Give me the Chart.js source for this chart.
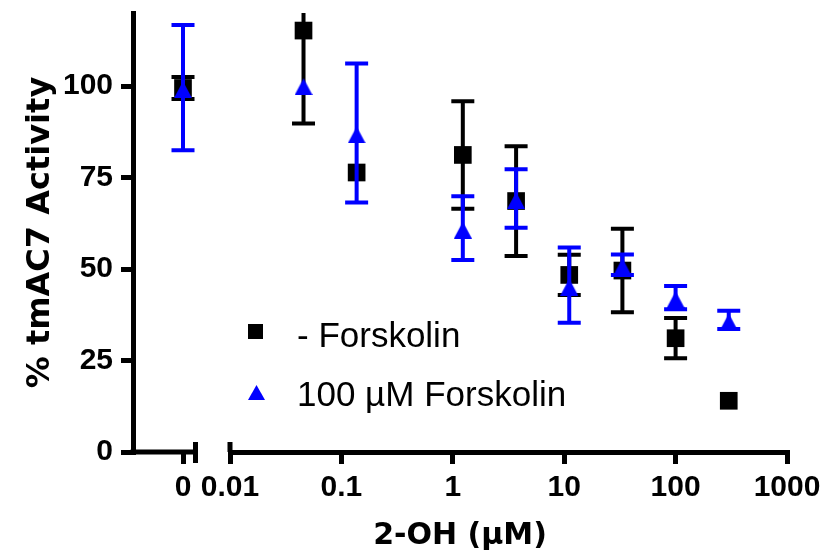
<!DOCTYPE html>
<html>
<head>
<meta charset="utf-8">
<script src="https://cdn.jsdelivr.net/npm/chart.js@4.4.0/dist/chart.umd.min.js"></script>
<style>
  html, body { margin: 0; padding: 0; background: #fff; }
</style>
</head>
<body>
<canvas id="chart" width="825" height="558"></canvas>
<script>
// 2-OH concentrations (uM), 3-fold dilutions. The "0" control gets its own axis piece.
const concs = [0.0457, 0.137, 1.23, 3.7, 11.1, 33.3, 100, 300];

const noFskZero = 99.5;
const noFskZeroErr = 3;
const noFsk = [115.2, 76.4, 81.2, 68.6, 48.4, 49.6, 31.1, 14.0];
const noFskErr = [25.4, 0, 14.7, 15, 5.5, 11.4, 5.5, 0];

const fskZero = 99.6;
const fskZeroErr = 17.1;
const fsk = [100.4, 87.2, 61.2, 69.3, 45.6, 51.2, 42.2, 36.1];
const fskErr = [0, 19, 8.7, 8, 10.3, 2.8, 3.2, 2.5];

const seriesNames = ['- Forskolin', '100 µM Forskolin'];
const yTicks = [0, 25, 50, 75, 100];
const xTicks = [0.01, 0.1, 1, 10, 100, 1000];
const zeroTicks = [0];

const BLUE = '#0000ff';
const BLACK = '#000000';
const tickFont = { family: '"Liberation Sans", Arial, sans-serif', weight: 'bold', size: 30 };
const titleFont = { family: '"DejaVu Sans", sans-serif', weight: 'bold', size: 30 };

// triangle marker, drawn a bit low like the original plot software does
function triangleImg(w, h, pad, color) {
    const c = document.createElement('canvas');
    c.width = w;
    c.height = h + pad;
    const g = c.getContext('2d');
    g.fillStyle = color;
    g.beginPath();
    g.moveTo(w / 2, pad);
    g.lineTo(w, h + pad);
    g.lineTo(0, h + pad);
    g.closePath();
    g.fill();
    return c;
}
const triMarker = triangleImg(18, 17, 4, BLUE);

const toPoints = (xs, ys) => xs.map((x, i) => ({ x: x, y: ys[i] }));

const errorBars = {
    id: 'errorBars',
    beforeDatasetDraw(chart, args) {
        const ds = chart.data.datasets[args.index];
        if (!ds.errors) return;
        const ctx = chart.ctx;
        const area = chart.chartArea;
        const yScale = chart.scales.y;
        ctx.save();
        ctx.beginPath();
        ctx.rect(area.left, area.top, area.right - area.left, area.bottom - area.top);
        ctx.clip();
        ctx.strokeStyle = ds.barColor;
        ctx.lineWidth = 4;
        args.meta.data.forEach((pt, i) => {
            const e = ds.errors[i];
            if (!e) return;
            const v = ds.data[i].y;
            const top = yScale.getPixelForValue(v + e);
            const bot = yScale.getPixelForValue(v - e);
            ctx.beginPath();
            ctx.moveTo(pt.x, top); ctx.lineTo(pt.x, bot);
            ctx.moveTo(pt.x - 11.5, top); ctx.lineTo(pt.x + 11.5, top);
            ctx.moveTo(pt.x - 11.5, bot); ctx.lineTo(pt.x + 11.5, bot);
            ctx.stroke();
        });
        ctx.restore();
    }
};

// broken x axis: short piece for "0", gap, then the log axis
const brokenAxis = {
    id: 'brokenAxis',
    afterDraw(chart) {
        const ctx = chart.ctx;
        const area = chart.chartArea;
        const xLog = chart.scales.x;
        const yb = chart.scales.y.getPixelForValue(0);
        const brk = xLog.left - 32;
        const start = xLog.getPixelForValue(xTicks[0]);
        ctx.save();
        ctx.strokeStyle = BLACK;
        ctx.lineWidth = 5;
        ctx.beginPath();
        ctx.moveTo(area.left - 2.5, yb); ctx.lineTo(brk, yb);
        ctx.moveTo(brk - 2.5, yb - 10); ctx.lineTo(brk - 2.5, yb + 11);
        ctx.moveTo(start, yb - 10); ctx.lineTo(start, yb);
        ctx.stroke();
        ctx.restore();
    }
};

const legendBox = {
    id: 'legendBox',
    afterDraw(chart) {
        const ctx = chart.ctx;
        ctx.save();
        ctx.fillStyle = BLACK;
        ctx.fillRect(248, 324, 15, 15);
        ctx.fillStyle = BLUE;
        ctx.beginPath();
        ctx.moveTo(256.5, 385); ctx.lineTo(265, 400); ctx.lineTo(248, 400);
        ctx.closePath();
        ctx.fill();
        ctx.fillStyle = BLACK;
        ctx.font = '35px "Liberation Sans", Arial, sans-serif';
        ctx.textBaseline = 'middle';
        ctx.fillText(seriesNames[0], 297, 337);
        ctx.fillText(seriesNames[1], 297, 396);
        ctx.restore();
    }
};

const axisGrid = {
    drawOnChartArea: false, drawTicks: true, tickLength: 12,
    lineWidth: 5, tickWidth: 5, tickColor: BLACK, color: BLACK
};

// fixed axis sizes, and no label overhang padding
const fitHeight = h => s => { s.height = h; s.paddingLeft = 0; s.paddingRight = 0; };

const squareSet = (data, errs, xAxis) => ({
    label: seriesNames[0], data: data, errors: errs, barColor: BLACK,
    xAxisID: xAxis, yAxisID: 'y', order: 2,
    pointStyle: 'rect', pointRadius: 12.5, pointBorderWidth: 0,
    pointBackgroundColor: BLACK, showLine: false
});
const triangleSet = (data, errs, xAxis) => ({
    label: seriesNames[1], data: data, errors: errs, barColor: BLUE,
    xAxisID: xAxis, yAxisID: 'y', order: 1,
    pointStyle: triMarker, pointRadius: 10, pointBorderWidth: 0,
    pointBackgroundColor: BLUE, showLine: false
});

new Chart(document.getElementById('chart').getContext('2d'), {
    type: 'scatter',
    data: {
        datasets: [
            squareSet([{ x: 0, y: noFskZero }], [noFskZeroErr], 'x0'),
            squareSet(toPoints(concs, noFsk), noFskErr, 'x'),
            triangleSet([{ x: 0, y: fskZero }], [fskZeroErr], 'x0'),
            triangleSet(toPoints(concs, fsk), fskErr, 'x')
        ]
    },
    options: {
        responsive: false,
        animation: false,
        layout: { padding: { top: 13, right: 38, bottom: 0, left: 0 } },
        plugins: { legend: { display: false }, tooltip: { enabled: false } },
        scales: {
            x0: {
                type: 'linear', position: 'bottom', stack: 'xs', stackWeight: 97,
                min: -1, max: 0.94,
                afterBuildTicks: s => { s.ticks = zeroTicks.map(v => ({ value: v })); },
                afterFit: fitHeight(56),
                ticks: { font: tickFont, color: BLACK, padding: 6, maxRotation: 0, autoSkip: false, callback: v => String(v) },
                grid: axisGrid,
                border: { display: false }
            },
            x: {
                type: 'logarithmic', position: 'bottom', stack: 'xs', stackWeight: 557,
                min: 0.01, max: 1000,
                afterBuildTicks: s => { s.ticks = xTicks.map(v => ({ value: v })); },
                afterFit: fitHeight(56),
                ticks: { font: tickFont, color: BLACK, padding: 6, maxRotation: 0, autoSkip: false, callback: v => String(v) },
                grid: axisGrid,
                border: { display: true, color: BLACK, width: 5 }
            },
            xt: {
                type: 'linear', position: 'bottom',
                afterFit: fitHeight(50),
                ticks: { display: false },
                grid: { display: false },
                border: { display: false },
                title: { display: true, text: '2-OH (µM)', color: BLACK, font: titleFont, padding: { top: 0, bottom: 4 } }
            },
            y: {
                min: 0, max: 120,
                afterBuildTicks: s => { s.ticks = yTicks.map(v => ({ value: v })); },
                afterFit: s => { s.width = 133; s.paddingTop = 0; s.paddingBottom = 0; },
                ticks: { font: tickFont, color: BLACK, padding: 8 },
                grid: axisGrid,
                border: { display: true, color: BLACK, width: 5 },
                title: { display: true, text: '% tmAC7 Activity', color: BLACK,
                         font: { family: '"DejaVu Sans", sans-serif', weight: 'bold', size: 32 },
                         padding: { top: 21, bottom: 0 } }
            }
        }
    },
    plugins: [errorBars, brokenAxis, legendBox]
});
</script>
</body>
</html>
